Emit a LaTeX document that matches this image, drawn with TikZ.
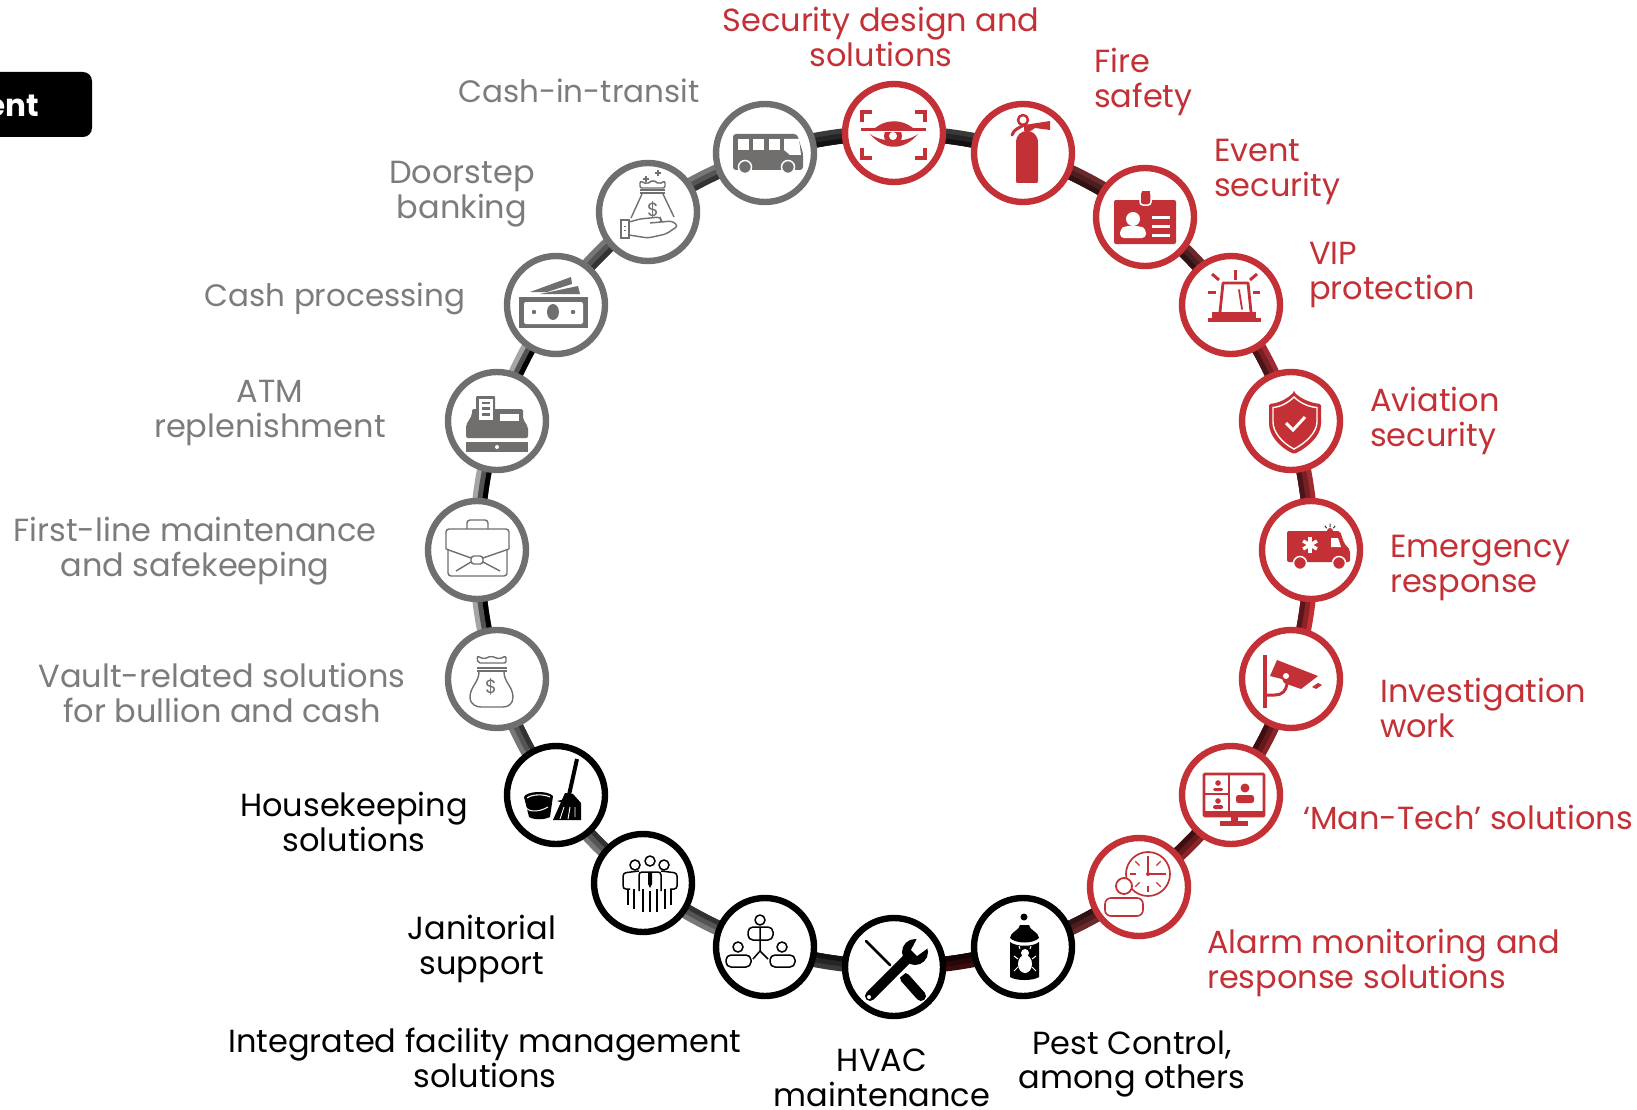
\documentclass[tikz,border=0pt]{standalone}
\usepackage{fontspec}
\setmainfont{Poppins}
\usetikzlibrary{backgrounds}
\definecolor{rd}{HTML}{C33035}
\definecolor{gy}{HTML}{706F6E}
\definecolor{tgy}{HTML}{7C7C7C}
\definecolor{ao}{HTML}{3A3A3A}\definecolor{ai}{HTML}{111111}
\definecolor{bo}{HTML}{6A2A2C}\definecolor{bi}{HTML}{2E1214}
\definecolor{co}{HTML}{A02C32}\definecolor{ci}{HTML}{4A1418}
\definecolor{do}{HTML}{C33035}\definecolor{di}{HTML}{5A161A}
\definecolor{eo}{HTML}{8A2428}\definecolor{ei}{HTML}{3E0E12}
\definecolor{fo}{HTML}{3A0C0E}\definecolor{fi}{HTML}{120404}
\definecolor{go}{HTML}{777777}\definecolor{gi}{HTML}{333333}
\definecolor{ho}{HTML}{A5A5A5}\definecolor{hi}{HTML}{000000}
\tikzset{
  hub/.style={circle,draw=#1,fill=white,line width=6.4pt,minimum size=98pt,inner sep=0pt},
  lab/.style={text=#1,font=\fontsize{32}{34.5}\selectfont,inner sep=0pt},
  labs/.style={text=#1,font=\fontsize{31}{34.5}\selectfont,inner sep=0pt},
  ico/.style={line width=#1,line cap=round,line join=round},
  ringpath/.style={line width=#1,bend left=9,looseness=0.86},
  inset/.style={transform canvas={shift={(894,550)},scale=#1,shift={(-894,-550)}}},
}
\newcommand{\ringlink}[3]{%
  \draw[ringpath=15pt,draw=#3o] (#1.center) to (#2.center);
  \draw[ringpath=10pt,draw=#3o!50!#3i,inset=0.994] (#1.center) to (#2.center);
  \draw[ringpath=5pt,draw=#3i,inset=0.988] (#1.center) to (#2.center);
}
\begin{document}
\begin{tikzpicture}[x=1pt,y=-1pt]
\useasboundingbox (0,0) rectangle (1637,1110);
% title tab
\fill[black,rounded corners=9pt] (-40,72) rectangle (92,137);
\node[anchor=base east,text=white,font=\fontsize{31}{34}\selectfont\bfseries,inner sep=0pt] (tab) at (39,117) {ent};
% hubs
\node[hub=rd] (sec) at (894,133) {};
\node[hub=rd] (fire) at (1023,153) {};
\node[hub=rd] (event) at (1145,217) {};
\node[hub=rd] (vip) at (1231,305) {};
\node[hub=rd] (avi) at (1291,421) {};
\node[hub=rd] (eme) at (1311,550) {};
\node[hub=rd] (inv) at (1291,679) {};
\node[hub=rd] (man) at (1231,795) {};
\node[hub=rd] (ala) at (1139,887) {};
\node[hub=black] (pest) at (1023,947) {};
\node[hub=black] (hvac) at (894,967) {};
\node[hub=black] (ifm) at (765,947) {};
\node[hub=black] (jan) at (643,883) {};
\node[hub=black] (hou) at (556,795) {};
\node[hub=gy] (vau) at (497,679) {};
\node[hub=gy] (fir) at (477,550) {};
\node[hub=gy] (atm) at (497,421) {};
\node[hub=gy] (cas) at (556,305) {};
\node[hub=gy] (doo) at (648,212) {};
\node[hub=gy] (bus) at (765,153) {};
% ring links
\begin{scope}[on background layer]
\ringlink{bus}{sec}{a}
\ringlink{sec}{fire}{a}
\ringlink{fire}{event}{b}
\ringlink{event}{vip}{b}
\ringlink{vip}{avi}{c}
\ringlink{avi}{eme}{c}
\ringlink{eme}{inv}{d}
\ringlink{inv}{man}{e}
\ringlink{man}{ala}{e}
\ringlink{ala}{pest}{b}
\ringlink{pest}{hvac}{f}
\ringlink{hvac}{ifm}{a}
\ringlink{ifm}{jan}{g}
\ringlink{jan}{hou}{g}
\ringlink{hou}{vau}{g}
\ringlink{vau}{fir}{h}
\ringlink{fir}{atm}{h}
\ringlink{atm}{cas}{h}
\ringlink{cas}{doo}{g}
\ringlink{doo}{bus}{g}
\end{scope}
% labels
\node[lab=rd,align=center] (lsec) at (881,37) {Security design and\\solutions};
\node[lab=rd,align=left,anchor=west] (lfire) at (1094,82) {Fire\\safety};
\node[lab=rd,align=left,anchor=west] (levent) at (1214,172) {Event\\security};
\node[lab=rd,align=left,anchor=west] (lvip) at (1309,275) {VIP\\protection};
\node[lab=rd,align=left,anchor=west] (lavi) at (1370,421) {Aviation\\security};
\node[lab=rd,align=left,anchor=west] (leme) at (1390,568) {Emergency\\response};
\node[lab=rd,align=left,anchor=west] (linv) at (1380,708) {Investigation\\work};
\node[lab=rd,align=left,anchor=west] (lman) at (1303,817) {‘Man-Tech’ solutions};
\node[lab=rd,align=left,anchor=west] (lala) at (1207,963) {Alarm monitoring and\\response solutions};
\node[lab=black,align=center] (lpest) at (1132,1064) {Pest Control,\\among others};
\node[lab=black,align=center] (lhvac) at (882,1078) {HVAC\\maintenance};
\node[lab=black,align=center] (lifm) at (485,1058) {Integrated facility management\\solutions};
\node[lab=black,align=center] (ljan) at (482,949) {Janitorial\\support};
\node[lab=black,align=center] (lhou) at (354,822) {Housekeeping\\solutions};
\node[lab=tgy,align=center] (lvau) at (222,693) {Vault-related solutions\\for bullion and cash};
\node[lab=tgy,align=center] (lfir) at (195,551) {First-line maintenance\\and safekeeping};
\node[lab=tgy,align=center] (latm) at (270,413) {ATM\\replenishment};
\node[labs=tgy,align=center] (lcas) at (335,299) {Cash processing};
\node[lab=tgy,align=center] (ldoo) at (462,194) {Doorstep\\banking};
\node[labs=tgy,align=center] (lbus) at (579,91) {Cash-in-transit};
% --- icons ---
% security eye
\begin{scope}[shift={(sec.center)},draw=rd,fill=rd]
\draw[ico=3.5pt,line cap=butt,line join=miter] (-32,-11)--(-32,-21)--(-22,-21);
\draw[ico=3.5pt,line cap=butt,line join=miter] (31,-11)--(31,-21)--(21,-21);
\draw[ico=3.5pt,line cap=butt,line join=miter] (-32,15)--(-32,25)--(-22,25);
\draw[ico=3.5pt,line cap=butt,line join=miter] (31,15)--(31,25)--(21,25);
\fill (-19,-5) .. controls (-8,-14) and (8,-14) .. (19,-5) -- cycle;
\fill (-24,1) .. controls (-10,18) and (10,18) .. (24,1) .. controls (12,10) and (-12,10) .. (-24,1) -- cycle;
\fill (-1,3) circle (9);
\fill[white] (-1,3) circle (4);
\fill[white] (-33,-3) rectangle (33,-0.5);
\draw[ico=3pt,line cap=butt] (-33,-3)--(32,-3);
\end{scope}
% extinguisher
\begin{scope}[shift={(fire.center)},draw=rd,fill=rd]
\fill (-7,28) -- (-7,-10) .. controls (-7,-19) and (-1,-22) .. (4,-22) .. controls (10,-22) and (15,-18) .. (15,-10) -- (15,28) .. controls (15,30) and (14,30) .. (13,30) -- (-5,30) .. controls (-6,30) and (-7,30) .. (-7,28) -- cycle;
\draw[ico=2.5pt] (0,-33) circle (5);
\fill (1,-28) -- (27,-32) -- (27,-23) -- (12,-25) -- (6,-21) -- (1,-22) -- cycle;
\draw[ico=3pt] (-11,-18) .. controls (-9,-24) and (-4,-25) .. (1,-28);
\end{scope}
% id card
\begin{scope}[shift={(event.center)},draw=rd,fill=rd]
\fill[rounded corners=2pt] (-31,-17) rectangle (31,27);
\filldraw[draw=white,line width=1.5pt,rounded corners=3pt] (-5,-26) rectangle (6,-12);
\fill[rd] (-3.5,-26) rectangle (4.5,-18);
\fill[white] (-12,2) circle (7);
\fill[white,rounded corners=4pt] (-25,21) -- (-25,12) -- (-20,9) -- (-5,9) -- (1,12) -- (1,21) -- cycle;
\fill[white] (7,-1) rectangle (25,2);
\fill[white] (7,8) rectangle (25,11);
\fill[white] (7,17) rectangle (25,20);
\end{scope}
% siren
\begin{scope}[shift={(vip.center)},draw=rd,fill=rd]
\fill (-23,13) rectangle (30,17);
\fill (-19,7) rectangle (25,13);
\draw[ico=2.8pt] (-11,7)--(-8,-22)--(17,-22)--(20,7);
\draw[ico=1.8pt] (8,-15)--(11,4);
\draw[ico=3pt,line cap=butt] (4,-35)--(4,-25);
\draw[ico=3pt,line cap=butt] (-19,-31)--(-12,-25);
\draw[ico=3pt,line cap=butt] (26,-31)--(19,-25);
\draw[ico=3pt,line cap=butt] (-23,-13)--(-15,-13);
\draw[ico=3pt,line cap=butt] (22,-13)--(29,-13);
\end{scope}
% shield
\begin{scope}[shift={(avi.center)},draw=rd,fill=rd]
\fill[rounded corners=1.5pt] (3,-29) .. controls (10,-22) and (20,-18) .. (30,-17) -- (30,1) .. controls (30,14) and (18,26) .. (3,33) .. controls (-12,26) and (-22,14) .. (-22,1) -- (-22,-17) .. controls (-12,-18) and (-4,-22) .. (3,-29) -- cycle;
\draw[white,line width=1.4pt] (3,-24) .. controls (9,-18) and (18,-14) .. (26,-13.5) -- (26,1) .. controls (26,11) and (15,22) .. (3,28) .. controls (-9,22) and (-18,11) .. (-18,1) -- (-18,-13.5) .. controls (-11,-14) and (-3,-18) .. (3,-24) -- cycle;
\draw[white,ico=3pt,line cap=butt,line join=miter] (-5,2)--(2,9)--(14,-4);
\end{scope}
% ambulance
\begin{scope}[shift={(eme.center)},draw=rd,fill=rd]
\fill[rounded corners=2pt] (-24,-19) -- (29,-19) -- (33,-7) -- (39,0) -- (39,12) -- (-24,12) -- cycle;
\fill[white] (20,-12) -- (27,-12) -- (30,-3) -- (20,-3) -- cycle;
\fill (19,-19) circle (3);
\foreach \a in {0,60,120} {\draw[white,line width=3.4pt,rotate around={\a:(-1,-5)}] (-1,-13)--(-1,3);}
\filldraw[draw=white,line width=1.5pt] (-11,13) circle (6.5);
\filldraw[draw=white,line width=1.5pt] (28,13) circle (6.5);
\draw[ico=1pt,draw=black!80] (19,-26)--(19,-23) (14,-24)--(15.5,-22) (24,-24)--(22.5,-22);
\end{scope}
% cctv
\begin{scope}[shift={(inv.center)},draw=rd,fill=rd]
\fill (-28,-24) rectangle (-24,29);
\draw[ico=3pt,line cap=butt] (-25,16)--(-16,16) .. controls (-9,16) and (-5,12) .. (-4,5);
\fill (-14,-19) -- (27,-3) -- (10,10) -- (-7,4) -- (-9,0) -- (-21,-3) -- cycle;
\fill[white] (-5,-3) circle (3);
\fill (21,8) -- (27,4) -- (31,6) -- (25,10) -- cycle;
\end{scope}
% monitor
\begin{scope}[shift={(man.center)},draw=rd,fill=rd]
\draw[line width=2.8pt,rounded corners=1pt] (-27,-21) rectangle (33,21);
\fill (-27,16) rectangle (33,22);
\draw[line width=2pt] (-2,-21)--(-2,17) (-27,-1)--(-2,-1);
\fill (0,22) rectangle (7,27);
\fill (-11,26) rectangle (17,31);
\fill (-13,-12) circle (2.8);
\fill[rounded corners=1.5pt] (-18,-4) -- (-18,-7) -- (-8,-7) -- (-8,-4) -- cycle;
\fill (-13,6) circle (2.8);
\fill[rounded corners=1.5pt] (-18,14) -- (-18,10) -- (-8,10) -- (-8,14) -- cycle;
\fill (14,-7) circle (4.5);
\fill[rounded corners=2.5pt] (5,8) -- (5,0) -- (23,0) -- (23,8) -- cycle;
\end{scope}
% alarm monitoring
\begin{scope}[shift={(ala.center)}]
\draw[rd,line width=1.7pt,fill=white] (9,-13) circle (22);
\foreach \a in {0,45,...,315} {\draw[rd,line width=1.2pt,rotate around={\a:(9,-13)}] (9,-31)--(9,-25);}
\draw[rd,line width=1.5pt] (9,-13)--(9,-26) (9,-13)--(22,-13);
\fill[rd] (9,-13) circle (2);
\draw[rd,line width=1.8pt,fill=white] (-15,-1) circle (8);
\draw[rd,line width=1.6pt,rounded corners=6pt,fill=white] (-34,29) -- (-34,11) -- (4,11) -- (4,29) -- cycle;
\end{scope}
% pest spray
\begin{scope}[shift={(pest.center)},fill=black]
\fill (1,-30) circle (3.5);
\fill (-13,-9) .. controls (-13,-15) and (-3,-17) .. (-3,-22) -- (6,-22) .. controls (6,-17) and (16,-15) .. (16,-9) .. controls (10,-3) and (-7,-3) .. (-13,-9) -- cycle;
\fill (-13,-5) .. controls (-7,0) and (10,0) .. (16,-5) -- (16,30) .. controls (10,34) and (-7,34) .. (-13,30) -- cycle;
\fill[white] (2,17) ellipse (7 and 9);
\fill[white] (2,6) circle (4);
\draw[white,line width=1pt] (-3,2)--(-4,-1) (7,2)--(8,-1) (-5,12)--(-9,9) (9,12)--(13,9) (-5,20)--(-9,24) (9,20)--(13,24);
\end{scope}
% tools
\begin{scope}[shift={(hvac.center)}]
\draw[black,line width=2.8pt,line cap=round] (-28,-26)--(-4,-2);
\draw[black,line width=10pt,line cap=round] (11,11)--(27,29);
\draw[white,line width=3pt] (4,10)--(14,2);
\draw[black,line width=10pt,line cap=round] (-24,29)--(18,-13);
\fill[black] (21,-15) circle (13);
\fill[white] (17,-17) -- (23,-11) -- (38,-22) -- (26,-34) -- cycle;
\fill[white] (-25,30) circle (2);
\end{scope}
% ifm
\begin{scope}[shift={(ifm.center)},draw=black,line width=1.5pt]
\draw (-5,-27) circle (5);
\draw[rounded corners=5pt] (-17,-7) -- (-17,-20) -- (8,-20) -- (8,-7) -- cycle;
\draw (-5,-20)--(-5,4) (-5,4)--(-12,12) (-5,4)--(3,12);
\draw (-27,0) circle (5);
\draw[rounded corners=5pt] (-39,20) -- (-39,8) -- (-14,8) -- (-14,20) -- cycle;
\draw (17,0) circle (5);
\draw[rounded corners=5pt] (5,20) -- (5,8) -- (30,8) -- (30,20) -- cycle;
\end{scope}
% janitorial
\begin{scope}[shift={(jan.center)},draw=black,line width=1.5pt]
\draw (-8,-18) circle (5);
\draw (21,-18) circle (5);
\draw (7,-22) circle (5);
\draw[rounded corners=3pt] (-13,6) -- (-20,6) -- (-20,-10) -- (-4,-12);
\draw[rounded corners=3pt] (27,6) -- (34,6) -- (34,-10) -- (18,-12);
\draw[rounded corners=3pt,fill=white] (-4,8) -- (-4,-11) -- (18,-11) -- (18,8);
\fill[black] (5,-11) -- (9,-11) -- (9,1) -- (7,5) -- (5,1) -- cycle;
\draw (-15,6)--(-15,22) (-9,6)--(-9,26) (0,6)--(0,29) (7,8)--(7,29) (14,6)--(14,29) (22,6)--(22,26) (28,6)--(28,22);
\end{scope}
% housekeeping
\begin{scope}[shift={(hou.center)}]
\draw[black,line width=4pt] (21,-36)--(13,0);
\fill[black] (9,-2) -- (17,-1) -- (25,8) -- (25,25) -- (-3,25) -- cycle;
\fill[black] (1,6) -- (14,3) -- (14,10) -- cycle;
\draw[white,line width=0.9pt] (8,12)--(4,24) (14,12)--(12,24) (19,12)--(19,22);
\fill[black] (-32,2) .. controls (-30,-4) and (-8,-5) .. (-3,1) -- (-6,22) .. controls (-12,25) and (-22,25) .. (-27,22) -- cycle;
\draw[white,line width=1.1pt] (-29,3) .. controls (-24,-1) and (-12,-1) .. (-6,2);
\draw[white,line width=1pt] (-32,7) .. controls (-32,18) and (-18,18) .. (-8,12);
\end{scope}
% vault bag
\begin{scope}[shift={(vau.center)},draw=gy,line width=1.4pt]
\draw[rounded corners=2pt] (-20,-23) -- (-13,-20) -- (-6,-23) -- (2,-20) -- (9,-23) -- (9,-16) -- (-19,-16) -- cycle;
\draw (-20,-11)--(10,-11) (-20,-8)--(10,-8);
\draw (-18,-7) .. controls (-18,3) and (-27,8) .. (-27,18) .. controls (-27,26) and (-20,28) .. (-16,28) -- (6,28) .. controls (11,28) and (16,25) .. (16,18) .. controls (16,8) and (7,3) .. (7,-7);
\node[text=gy,font=\fontsize{19}{19}\selectfont,inner sep=0pt] (dollar1) at (-6,8) {\$};
\end{scope}
% briefcase
\begin{scope}[shift={(fir.center)},draw=gy,line width=1.4pt]
\draw[rounded corners=3pt] (-31,-1) -- (-31,-21) -- (32,-21) -- (32,-1);
\draw[rounded corners=3pt] (-29,0) -- (-29,26) -- (30,26) -- (30,0);
\draw[rounded corners=3pt] (-10,-21) -- (-10,-30) -- (11,-30) -- (11,-21);
\draw (-31,-1)--(-6,8) (6,8)--(32,-1) (-21,21)--(-6,12) (23,21)--(6,12);
\draw[rounded corners=3pt] (-6,6) rectangle (6,14);
\end{scope}
% register
\begin{scope}[shift={(atm.center)},fill=gy]
\fill (-31,21) rectangle (31,31);
\fill[white] (0,26) circle (2);
\fill[rounded corners=2pt] (-31,17) -- (-31,4) -- (-25,-6) -- (-25,-12) -- (26,-12) -- (26,-2) -- (31,6) -- (31,17) -- cycle;
\fill[rounded corners=1pt] (-21,-25) rectangle (-2,2);
\fill[white] (-18,-22) rectangle (-4,-1);
\fill (-15,-19) rectangle (-7,-17);
\fill (-15,-14) rectangle (-7,-11);
\fill (-15,-8) rectangle (-7,-5);
\fill[white] (3,-7) rectangle (22,0);
\end{scope}
% cash
\begin{scope}[shift={(cas.center)},fill=gy]
\fill (-37,-8) rectangle (32,23);
\fill[white,rounded corners=2pt] (-32,-3) rectangle (27,19);
\fill (-3,7) ellipse (6 and 8);
\fill (-22,7) circle (2.2);
\fill (17,7) circle (2.2);
\fill (-26,-13) -- (15,-28) -- (16,-21) -- (-9,-13) -- cycle;
\fill (-16,-11) -- (22,-19) -- (24,-11) -- cycle;
\end{scope}
% doorstep
\begin{scope}[shift={(doo.center)},draw=gy,line width=1.4pt]
\draw (-2,-36)--(-2,-30) (-5,-33)--(1,-33) (10,-42)--(10,-36) (7,-39)--(13,-39);
\draw[rounded corners=2pt] (-8,-31) -- (-1,-28) -- (5,-32) -- (11,-28) -- (17,-31) -- (17,-24) -- (-8,-24) -- cycle;
\draw (-8,-22)--(17,-22) (-8,-19)--(17,-19);
\draw (-6,-18) -- (-17,6) (15,-18) -- (26,5);
\node[text=gy,font=\fontsize{19}{19}\selectfont,inner sep=0pt] (dollar2) at (5,-2) {\$};
\draw (-27,8) rectangle (-19,26);
\draw (-23,14)--(-23,15) (-23,18)--(-23,19);
\draw[rounded corners=3pt] (-19,10) -- (-8,7) -- (12,5) -- (14,10) -- (2,11) (2,11) -- (24,9) -- (30,14) -- (18,22) -- (0,26) -- (-19,23);
\end{scope}
% bus
\begin{scope}[shift={(bus.center)},fill=gy]
\fill[rounded corners=3pt] (-32,-19) -- (32,-19) -- (38,0) -- (38,17) -- (-32,17) -- cycle;
\fill[white] (-27,-14) rectangle (-16,-3);
\fill[white] (-12,-14) rectangle (-1,-3);
\fill[white] (4,-14) rectangle (15,-3);
\fill[white] (19,-14) -- (34,-14) -- (36,2) -- (25,2) -- (19,-3) -- cycle;
\filldraw[draw=white,line width=1.5pt] (-20,14) circle (6.5);
\filldraw[draw=white,line width=1.5pt] (23,14) circle (6.5);
\end{scope}
\end{tikzpicture}
\end{document}
